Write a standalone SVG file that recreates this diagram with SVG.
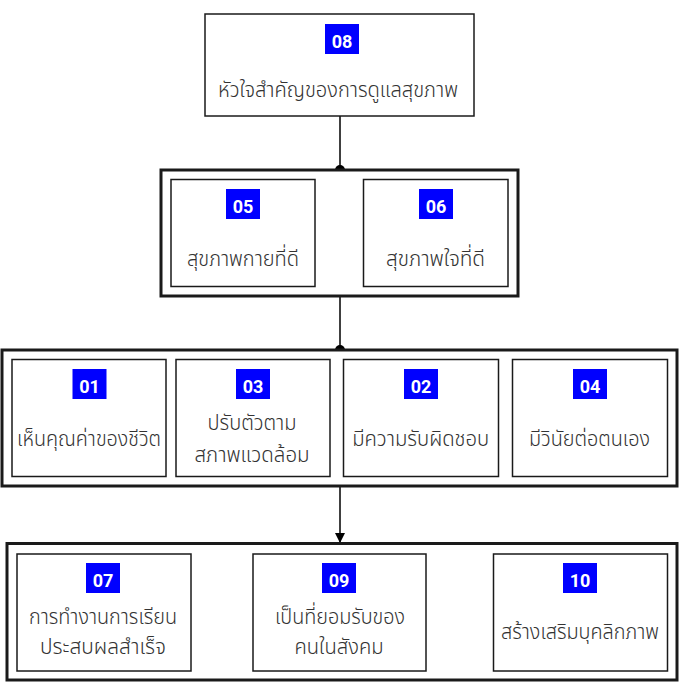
<svg xmlns="http://www.w3.org/2000/svg" width="690" height="686" viewBox="0 0 690 686">
<defs>
<style>
.outer{fill:#fff;stroke:#1a1a1a;stroke-width:3}
.box{fill:#fff;stroke:#1a1a1a;stroke-width:1.5}
.badge{fill:#0000ff}
.num{font-family:Roboto,"Liberation Sans",sans-serif;font-weight:bold;font-size:18px;fill:#fff;text-anchor:middle}
.lbl{font-family:"Noto Sans Thai","Noto Sans","Liberation Sans",sans-serif;font-size:22px;font-weight:300;fill:#333;text-anchor:middle}
.con{stroke:#000;stroke-width:1.5;fill:none}
</style>
<marker id="arr" markerWidth="10" markerHeight="10" refX="9" refY="5" orient="auto" markerUnits="userSpaceOnUse">
<path d="M0,0 L10,5 L0,10 Z" fill="#000"/>
</marker>
</defs>
<rect width="690" height="686" fill="#fff"/>
<g id="connectors">
<line class="con" x1="340" y1="116" x2="340" y2="170"/>
<circle cx="340" cy="170" r="5" fill="#000"/>
<line class="con" x1="340" y1="296" x2="340" y2="350"/>
<circle cx="340" cy="350" r="5" fill="#000"/>
<line class="con" x1="340" y1="486" x2="340" y2="542" marker-end="url(#arr)"/>
</g>
<g id="node08">
<rect class="box" x="205" y="14" width="269" height="102"/>
<rect class="badge" x="325" y="24" width="34" height="30"/>
<text class="num" x="342" y="48">08</text>
<text class="lbl" x="338" y="97" textLength="240" lengthAdjust="spacingAndGlyphs">หัวใจสำคัญของการดูแลสุขภาพ</text>
</g>
<g id="group2">
<rect class="outer" x="161" y="170" width="357" height="126"/>
</g>
<g id="node05">
<rect class="box" x="171" y="179.5" width="144" height="107"/>
<rect class="badge" x="226" y="189" width="34" height="30"/>
<text class="num" x="243" y="213">05</text>
<text class="lbl" x="243" y="266" textLength="112" lengthAdjust="spacingAndGlyphs">สุขภาพกายที่ดี</text>
</g>
<g id="node06">
<rect class="box" x="363.5" y="179.5" width="144.5" height="107"/>
<rect class="badge" x="419" y="189" width="34" height="30"/>
<text class="num" x="436" y="213">06</text>
<text class="lbl" x="435.5" y="266" textLength="99" lengthAdjust="spacingAndGlyphs">สุขภาพใจที่ดี</text>
</g>
<g id="group3">
<rect class="outer" x="2" y="350" width="675" height="136"/>
</g>
<g id="node01">
<rect class="box" x="12" y="359.5" width="154" height="117"/>
<rect class="badge" x="72.5" y="369" width="34" height="30"/>
<text class="num" x="89.5" y="393">01</text>
<text class="lbl" x="89" y="446" textLength="144" lengthAdjust="spacingAndGlyphs">เห็นคุณค่าของชีวิต</text>
</g>
<g id="node03">
<rect class="box" x="176" y="359.5" width="154" height="117"/>
<rect class="badge" x="236" y="369" width="34" height="30"/>
<text class="num" x="253" y="393">03</text>
<text class="lbl" x="252" y="430" textLength="89" lengthAdjust="spacingAndGlyphs">ปรับตัวตาม</text>
<text class="lbl" x="252" y="461.5" textLength="115" lengthAdjust="spacingAndGlyphs">สภาพแวดล้อม</text>
</g>
<g id="node02">
<rect class="box" x="343.5" y="359.5" width="155" height="117"/>
<rect class="badge" x="404" y="369" width="34" height="30"/>
<text class="num" x="421" y="393">02</text>
<text class="lbl" x="420.7" y="446" textLength="137" lengthAdjust="spacingAndGlyphs">มีความรับผิดชอบ</text>
</g>
<g id="node04">
<rect class="box" x="512.5" y="359.5" width="155" height="117"/>
<rect class="badge" x="573" y="369" width="34" height="30"/>
<text class="num" x="590" y="393">04</text>
<text class="lbl" x="589.5" y="446" textLength="121" lengthAdjust="spacingAndGlyphs">มีวินัยต่อตนเอง</text>
</g>
<g id="group4">
<rect class="outer" x="7" y="543.5" width="670" height="136.5"/>
</g>
<g id="node07">
<rect class="box" x="17" y="554" width="174" height="117"/>
<rect class="badge" x="86" y="563" width="34" height="30"/>
<text class="num" x="103" y="587">07</text>
<text class="lbl" x="103" y="624" textLength="148" lengthAdjust="spacingAndGlyphs">การทำงานการเรียน</text>
<text class="lbl" x="103" y="654" textLength="126" lengthAdjust="spacingAndGlyphs">ประสบผลสำเร็จ</text>
</g>
<g id="node09">
<rect class="box" x="253" y="554" width="173" height="117"/>
<rect class="badge" x="322" y="563" width="34" height="30"/>
<text class="num" x="339" y="587">09</text>
<text class="lbl" x="340" y="624" textLength="130" lengthAdjust="spacingAndGlyphs">เป็นที่ยอมรับของ</text>
<text class="lbl" x="339" y="654" textLength="89" lengthAdjust="spacingAndGlyphs">คนในสังคม</text>
</g>
<g id="node10">
<rect class="box" x="493.5" y="554" width="174" height="117"/>
<rect class="badge" x="563" y="563" width="34" height="30"/>
<text class="num" x="580" y="587">10</text>
<text class="lbl" x="580" y="639" textLength="158" lengthAdjust="spacingAndGlyphs">สร้างเสริมบุคลิกภาพ</text>
</g>
</svg>
